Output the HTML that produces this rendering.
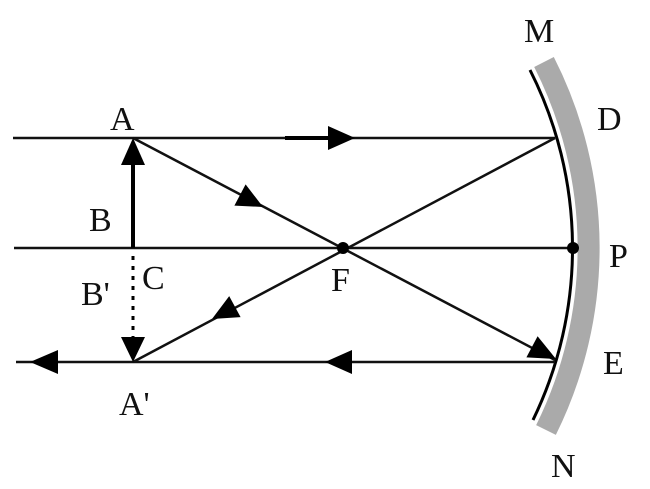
<!DOCTYPE html>
<html><head><meta charset="utf-8"><style>
html,body{margin:0;padding:0;background:#fff;}
svg{display:block;}
text{font-family:"Liberation Serif",serif;font-size:34px;fill:#111;}
</style></head><body>
<svg width="650" height="489" viewBox="0 0 650 489" xmlns="http://www.w3.org/2000/svg">
<path d="M 544 62 A 410 410 0 0 1 546 430" fill="none" stroke="#aaa" stroke-width="22"/>
<path d="M 530 70 A 394 394 0 0 1 533 420" fill="none" stroke="#000" stroke-width="3"/>
<g stroke="#111" stroke-width="2.5" fill="none">
<line x1="13" y1="138" x2="555" y2="138"/>
<line x1="14" y1="248" x2="573" y2="248"/>
<line x1="16" y1="362" x2="555" y2="362"/>
<line x1="133" y1="138" x2="555" y2="360"/>
<line x1="555" y1="138" x2="133" y2="362"/>
</g>
<line x1="285" y1="138" x2="330" y2="138" stroke="#000" stroke-width="4"/>
<line x1="133" y1="248" x2="133" y2="160" stroke="#000" stroke-width="4"/>
<line x1="133" y1="256" x2="133" y2="340" stroke="#000" stroke-width="3" stroke-dasharray="4,6"/>
<g fill="#000">
<polygon points="355,138 328,126 328,150"/>
<polygon points="133,138 121,165 145,165"/>
<polygon points="263,207 234.4,205.6 245.6,184.4"/>
<polygon points="212,319 240.6,317.1 229.2,296.1"/>
<polygon points="325,362 352,350 352,374"/>
<polygon points="30,362 58,350 58,374"/>
<polygon points="133,362 121,337 145,337"/>
<polygon points="556,359 526.4,357.4 537.6,336.2"/>
<circle cx="343" cy="248" r="6"/>
<circle cx="573" cy="248" r="6"/>
</g>
<text x="110" y="130">A</text>
<text x="89" y="231">B</text>
<text x="142" y="289">C</text>
<text x="81" y="305">B'</text>
<text x="331" y="291">F</text>
<text x="119" y="415">A'</text>
<text x="524" y="42">M</text>
<text x="597" y="130">D</text>
<text x="609" y="267">P</text>
<text x="603" y="374">E</text>
<text x="551" y="477">N</text>
</svg>
</body></html>
